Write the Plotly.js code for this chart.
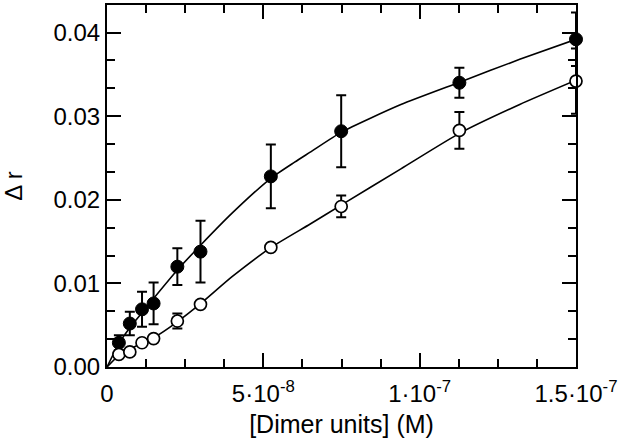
<!DOCTYPE html>
<html>
<head>
<meta charset="utf-8">
<script src="https://cdn.plot.ly/plotly-3.0.1.min.js"></script>
<style>html,body{margin:0;padding:0;background:#fff}#chart{width:625px;height:447px}</style>
</head>
<body>
<div id="chart"></div>
<script>
// Measured points (x in M)
const xPts = [0.38e-8, 0.73e-8, 1.12e-8, 1.49e-8, 2.25e-8, 2.99e-8, 5.24e-8, 7.49e-8, 11.27e-8, 15.0e-8];
const filledY = [0.0029, 0.0052, 0.0069, 0.0076, 0.0120, 0.0138, 0.0228, 0.0282, 0.0340, 0.0392];
const filledErr = [0.0009, 0.0014, 0.0021, 0.0025, 0.0022, 0.0037, 0.0038, 0.0043, 0.0018, 0.0032];
const openY = [0.0015, 0.0018, 0.0029, 0.0034, 0.0055, 0.0075, 0.0143, 0.0192, 0.0283, 0.0342];
const openErr = [0, 0, 0, 0, 0.0009, 0, 0, 0.0013, 0.0022, 0.0039];

// Fitted curves
const filledCurveX = [0, 0.38e-8, 0.73e-8, 1.12e-8, 1.49e-8, 2.25e-8, 3.0e-8, 4.0e-8, 5.25e-8, 6.0e-8, 6.5e-8, 7.5e-8, 9.4e-8, 11.3e-8, 13.2e-8, 15.0e-8];
const filledCurveY = [0, 0.0028, 0.0047, 0.0065, 0.0082, 0.0116, 0.0146, 0.0184, 0.0226, 0.0245, 0.0257, 0.0281, 0.0314, 0.0341, 0.0368, 0.0392];
const openCurveX = [0, 0.38e-8, 0.73e-8, 1.12e-8, 1.49e-8, 2.25e-8, 3.0e-8, 4.0e-8, 5.25e-8, 6.5e-8, 7.5e-8, 9.4e-8, 11.3e-8, 13.2e-8, 15.0e-8];
const openCurveY = [0, 0.0014, 0.0021, 0.0029, 0.0035, 0.0054, 0.0076, 0.0108, 0.0143, 0.0171, 0.0194, 0.0237, 0.0280, 0.0314, 0.0343];

const xTickVals = [0, 5e-8, 1e-7, 1.5e-7];
const xTickText = ['0', '5·10<sup>-8</sup>', '1·10<sup>-7</sup>', '1.5·10<sup>-7</sup>'];
const yTickVals = [0, 0.01, 0.02, 0.03, 0.04];
const yTickText = ['0.00', '0.01', '0.02', '0.03', '0.04'];

const fam = 'Liberation Sans, Arial, sans-serif';
const tickFont = {family: fam, size: 24, color: '#000'};
const xTitleFont = {family: fam, size: 25, color: '#000'};
const yTitleFont = {family: fam, size: 24, color: '#000'};

const traces = [
  {x: filledCurveX, y: filledCurveY, mode: 'lines', line: {color: '#000', width: 1.6, shape: 'spline', smoothing: 0.6}, hoverinfo: 'skip'},
  {x: openCurveX, y: openCurveY, mode: 'lines', line: {color: '#000', width: 1.6, shape: 'spline', smoothing: 0.6}, hoverinfo: 'skip'},
  {x: xPts, y: filledY, mode: 'markers', cliponaxis: false,
   marker: {symbol: 'circle', size: 13, color: '#000', line: {color: '#000', width: 1}},
   error_y: {type: 'data', array: filledErr, visible: true, color: '#000', thickness: 2, width: 5}},
  {x: xPts, y: openY, mode: 'markers', cliponaxis: false,
   marker: {symbol: 'circle', size: 12, color: '#fff', line: {color: '#000', width: 1.7}},
   error_y: {type: 'data', array: openErr, visible: true, color: '#000', thickness: 2, width: 5}}
];

const layout = {
  width: 625, height: 447,
  margin: {l: 107, r: 49, t: 5, b: 80},
  paper_bgcolor: '#fff', plot_bgcolor: '#fff',
  showlegend: false,
  font: tickFont,
  xaxis: {
    range: [0, 1.5e-7], autorange: false, automargin: false,
    tickvals: xTickVals, ticktext: xTickText,
    ticks: 'inside', ticklen: 14, tickwidth: 2, tickcolor: '#000',
    ticklabelstandoff: 4,
    minor: {dtick: 1.25e-8, ticks: 'inside', ticklen: 8, tickwidth: 2, tickcolor: '#000', tick0: 0},
    showline: true, linewidth: 2, linecolor: '#000', mirror: 'ticks',
    showgrid: false, zeroline: false,
    tickfont: tickFont,
    title: {text: '[Dimer units] (M)', font: xTitleFont, standoff: 10}
  },
  yaxis: {
    range: [0, 0.0433], autorange: false, automargin: false,
    tickvals: yTickVals, ticktext: yTickText,
    ticks: 'inside', ticklen: 14, tickwidth: 2, tickcolor: '#000',
    minor: {dtick: 0.01/3, tick0: 0, ticks: 'inside', ticklen: 8, tickwidth: 2, tickcolor: '#000'},
    showline: true, linewidth: 2, linecolor: '#000', mirror: 'ticks',
    showgrid: false, zeroline: false,
    tickfont: tickFont,
    title: {text: 'Δ r', font: yTitleFont, standoff: 34}
  }
};

Plotly.newPlot('chart', traces, layout, {displayModeBar: false, staticPlot: true});
</script>
</body>
</html>
